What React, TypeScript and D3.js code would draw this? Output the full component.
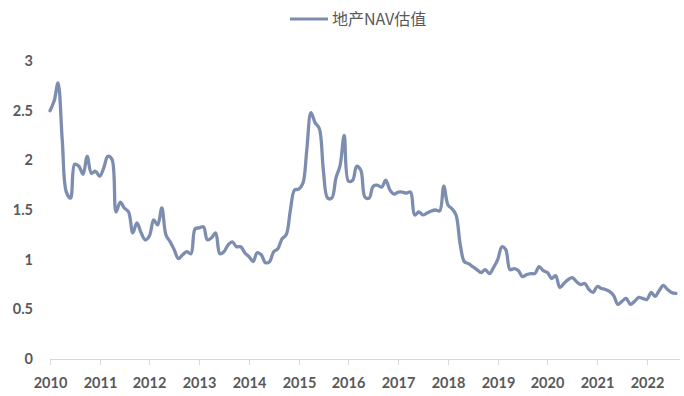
import React from "react";
import * as d3 from "d3";

// monthly NAV valuation, Jan 2010 .. Aug 2022
const nav2010 = [2.5, 2.6, 2.78, 2.2, 1.68, 1.62, 1.96, 1.94, 1.86, 2.04, 1.87, 1.89];
const nav2011 = [1.84, 1.93, 2.04, 2.01, 1.48, 1.58, 1.52, 1.48, 1.27, 1.37, 1.27, 1.2];
const nav2012 = [1.24, 1.4, 1.35, 1.52, 1.25, 1.18, 1.1, 1.01, 1.05, 1.08, 1.06, 1.31];
const nav2013 = [1.32, 1.33, 1.2, 1.22, 1.27, 1.06, 1.08, 1.15, 1.18, 1.13, 1.13, 1.07];
const nav2014 = [1.03, 0.98, 1.07, 1.05, 0.97, 0.98, 1.08, 1.11, 1.21, 1.25, 1.5, 1.7];
const nav2015 = [1.71, 1.77, 2.1, 2.48, 2.38, 2.32, 1.9, 1.62, 1.62, 1.82, 1.95, 2.25];
const nav2016 = [1.79, 1.8, 1.94, 1.9, 1.63, 1.62, 1.74, 1.75, 1.73, 1.8, 1.7, 1.66];
const nav2017 = [1.68, 1.68, 1.67, 1.68, 1.45, 1.48, 1.45, 1.47, 1.49, 1.5, 1.49, 1.74];
const nav2018 = [1.55, 1.51, 1.45, 1.15, 0.98, 0.96, 0.93, 0.9, 0.87, 0.9, 0.86, 0.92];
const nav2019 = [1.0, 1.13, 1.1, 0.9, 0.91, 0.89, 0.83, 0.85, 0.86, 0.86, 0.93, 0.89];
const nav2020 = [0.87, 0.81, 0.84, 0.72, 0.76, 0.8, 0.82, 0.78, 0.75, 0.76, 0.7, 0.67];
const nav2021 = [0.73, 0.71, 0.7, 0.68, 0.64, 0.55, 0.58, 0.61, 0.55, 0.58, 0.62, 0.61];
const nav2022 = [0.6, 0.67, 0.63, 0.69, 0.74, 0.7, 0.67, 0.66];

const navValues = [
  ...nav2010, ...nav2011, ...nav2012, ...nav2013, ...nav2014, ...nav2015, ...nav2016,
  ...nav2017, ...nav2018, ...nav2019, ...nav2020, ...nav2021, ...nav2022,
];
const tickYears = [2010, 2011, 2012, 2013, 2014, 2015, 2016, 2017, 2018, 2019, 2020, 2021, 2022];
const yTicks = [0, 0.5, 1, 1.5, 2, 2.5, 3];
const seriesName = "地产NAV估值";

const W = 684;
const H = 396;
const lineColor = "#7d8db0";
const textColor = "#595959";
const numFont = "Lato, 'Liberation Sans', sans-serif";

export default function App() {
  const data = navValues.map((v, i) => ({ date: new Date(2010, i, 1), value: v }));

  const x = d3
    .scaleTime()
    .domain([new Date(2010, 0, 1), new Date(2022, 0, 1)])
    .range([50, 647]);
  const y = d3.scaleLinear().domain([0, 3]).range([359, 61]);

  const line = d3
    .line<{ date: Date; value: number }>()
    .x(d => x(d.date))
    .y(d => y(d.value))
    .curve(d3.curveCatmullRom.alpha(0.5));

  const axisEnd = 680;

  return (
    <svg
      width={W}
      height={H}
      style={{ position: "absolute", top: 0, left: 0, background: "#fff" }}
    >
      {/* legend */}
      <line x1={290} x2={328} y1={19} y2={19} stroke={lineColor} strokeWidth={3.2} />
      <text
        x={332}
        y={25}
        fontSize={16}
        fill={textColor}
        fontFamily="'Noto Sans CJK SC', sans-serif"
      >
        {seriesName}
      </text>

      {/* y tick labels */}
      {yTicks.map(t => (
        <text
          key={t}
          x={33}
          y={y(t) + 5}
          textAnchor="end"
          fontSize={14.5}
          fontWeight="bold"
          fill={textColor}
          fontFamily={numFont}
        >
          {t}
        </text>
      ))}

      {/* x axis */}
      <line x1={x(new Date(2010, 0, 1))} x2={axisEnd} y1={359.5} y2={359.5} stroke="#d9d9d9" strokeWidth={1} />
      {tickYears.map(yr => {
        const px = Math.round(x(new Date(yr, 0, 1))) + 0.5;
        return (
          <g key={yr}>
            <line x1={px} x2={px} y1={359.5} y2={365} stroke="#d9d9d9" strokeWidth={1} />
            <text
              x={px}
              y={388}
              textAnchor="middle"
              fontSize={14.5}
              fontWeight="bold"
              fill={textColor}
              fontFamily={numFont}
            >
              {yr}
            </text>
          </g>
        );
      })}

      {/* series */}
      <path
        d={line(data) || ""}
        fill="none"
        stroke={lineColor}
        strokeWidth={3.3}
        strokeLinejoin="round"
        strokeLinecap="round"
      />
    </svg>
  );
}
